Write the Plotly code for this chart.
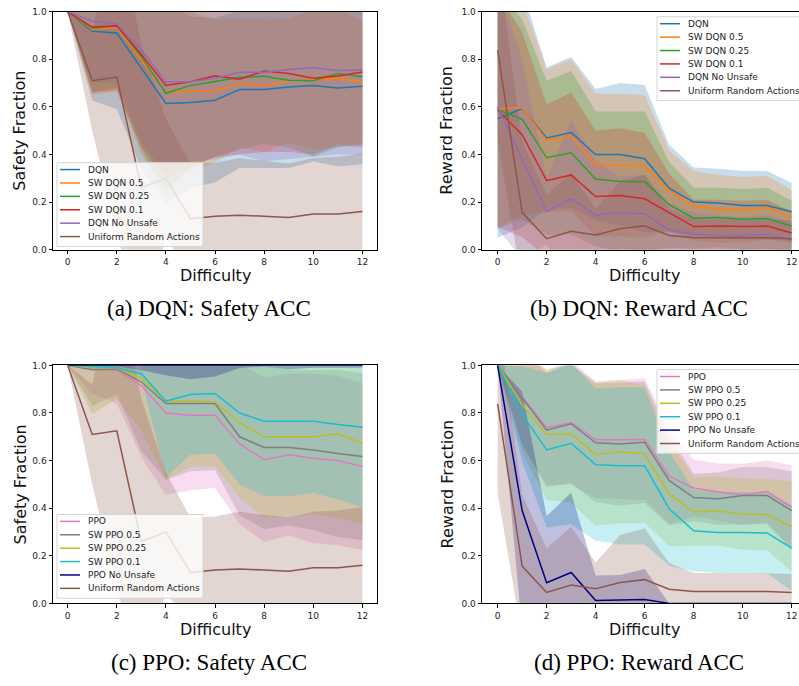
import plotly.graph_objects as go

# ---------------- data ----------------
DIFFICULTY = list(range(13))
X_TICKS = [0, 2, 4, 6, 8, 10, 12]
Y_TICKS = [0.0, 0.2, 0.4, 0.6, 0.8, 1.0]

# (a) DQN safety
A_DQN_MEAN = [1.0, 0.917, 0.91, 0.76, 0.614, 0.618, 0.628, 0.673, 0.673, 0.683, 0.69, 0.679, 0.686]
A_DQN_STD = [0.0, 0.29, 0.32, 0.42, 0.42, 0.36, 0.345, 0.33, 0.33, 0.34, 0.32, 0.33, 0.327]
A_SW05_MEAN = [1.0, 0.925, 0.935, 0.80, 0.66, 0.665, 0.667, 0.70, 0.688, 0.71, 0.715, 0.72, 0.705]
A_SW05_STD = [0.0, 0.275, 0.27, 0.40, 0.41, 0.335, 0.30, 0.27, 0.28, 0.26, 0.295, 0.29, 0.255]
A_SW025_MEAN = [1.0, 0.93, 0.94, 0.81, 0.657, 0.69, 0.706, 0.724, 0.728, 0.712, 0.71, 0.74, 0.726]
A_SW025_STD = [0.0, 0.27, 0.26, 0.39, 0.427, 0.34, 0.316, 0.304, 0.283, 0.282, 0.32, 0.31, 0.286]
A_SW01_MEAN = [1.0, 0.935, 0.94, 0.82, 0.69, 0.705, 0.73, 0.716, 0.75, 0.74, 0.72, 0.73, 0.746]
A_SW01_STD = [0.0, 0.275, 0.27, 0.39, 0.39, 0.365, 0.34, 0.316, 0.34, 0.33, 0.32, 0.29, 0.316]
A_NOUNSAFE_MEAN = [1.0, 0.96, 0.948, 0.84, 0.705, 0.705, 0.72, 0.745, 0.745, 0.757, 0.765, 0.753, 0.755]
A_NOUNSAFE_STD = [0.0, 0.26, 0.248, 0.39, 0.385, 0.335, 0.34, 0.345, 0.375, 0.377, 0.375, 0.353, 0.355]

# uniform random actions (shared by safety panels)
SAFETY_RANDOM_MEAN = [1.0, 0.71, 0.725, 0.26, 0.30, 0.13, 0.14, 0.145, 0.14, 0.135, 0.15, 0.15, 0.16]
SAFETY_RANDOM_STD = [0.0, 0.21, 0.65, 0.60, 0.25, 0.23, 0.225, 0.24, 0.232, 0.227, 0.235, 0.24, 0.245]

# (b) DQN reward
B_DQN_MEAN = [0.55, 0.593, 0.469, 0.492, 0.40, 0.40, 0.382, 0.258, 0.20, 0.196, 0.186, 0.186, 0.159]
B_DQN_STD = [0.5, 0.5, 0.296, 0.318, 0.275, 0.30, 0.31, 0.182, 0.145, 0.144, 0.144, 0.144, 0.121]
B_SW05_MEAN = [0.592, 0.596, 0.459, 0.48, 0.355, 0.355, 0.35, 0.248, 0.183, 0.172, 0.167, 0.177, 0.138]
B_SW05_STD = [0.5, 0.45, 0.30, 0.32, 0.30, 0.30, 0.30, 0.17, 0.147, 0.143, 0.138, 0.133, 0.112]
B_SW025_MEAN = [0.589, 0.548, 0.386, 0.407, 0.297, 0.286, 0.286, 0.189, 0.132, 0.135, 0.128, 0.131, 0.099]
B_SW025_STD = [0.5, 0.42, 0.324, 0.343, 0.283, 0.294, 0.294, 0.18, 0.128, 0.125, 0.127, 0.129, 0.106]
B_SW01_MEAN = [0.586, 0.483, 0.29, 0.314, 0.223, 0.228, 0.214, 0.156, 0.097, 0.099, 0.097, 0.099, 0.07]
B_SW01_STD = [0.49, 0.43, 0.32, 0.346, 0.277, 0.282, 0.276, 0.164, 0.113, 0.111, 0.108, 0.111, 0.09]
B_NOUNSAFE_MEAN = [0.60, 0.38, 0.161, 0.214, 0.145, 0.156, 0.15, 0.084, 0.066, 0.058, 0.058, 0.065, 0.041]
B_NOUNSAFE_STD = [0.51, 0.42, 0.14, 0.33, 0.23, 0.15, 0.165, 0.11, 0.09, 0.085, 0.08, 0.08, 0.07]

# uniform random actions (shared by reward panels)
REWARD_RANDOM_MEAN = [0.838, 0.157, 0.046, 0.077, 0.062, 0.088, 0.10, 0.06, 0.05, 0.05, 0.05, 0.05, 0.046]
REWARD_RANDOM_STD = [0.375, 0.30, 0.185, 0.245, 0.11, 0.20, 0.215, 0.11, 0.078, 0.078, 0.077, 0.077, 0.078]

# (c) PPO safety
C_PPO_MEAN = [1.0, 0.985, 0.98, 0.915, 0.80, 0.79, 0.79, 0.67, 0.604, 0.625, 0.61, 0.60, 0.575]
C_PPO_STD = [0.0, 0.105, 0.14, 0.30, 0.345, 0.315, 0.305, 0.336, 0.346, 0.34, 0.356, 0.356, 0.35]
C_SW05_MEAN = [1.0, 0.982, 0.985, 0.93, 0.84, 0.84, 0.84, 0.70, 0.655, 0.655, 0.645, 0.63, 0.617]
C_SW05_STD = [0.0, 0.152, 0.105, 0.29, 0.32, 0.285, 0.28, 0.33, 0.342, 0.328, 0.336, 0.351, 0.35]
C_SW025_MEAN = [1.0, 0.99, 0.99, 0.945, 0.85, 0.85, 0.845, 0.76, 0.70, 0.70, 0.70, 0.713, 0.673]
C_SW025_STD = [0.0, 0.195, 0.13, 0.22, 0.33, 0.275, 0.27, 0.316, 0.34, 0.336, 0.325, 0.353, 0.34]
C_SW01_MEAN = [1.0, 0.995, 0.99, 0.965, 0.85, 0.878, 0.882, 0.80, 0.765, 0.765, 0.765, 0.752, 0.74]
C_SW01_STD = [0.0, 0.01, 0.012, 0.02, 0.32, 0.253, 0.252, 0.30, 0.315, 0.315, 0.30, 0.315, 0.335]
C_NOUNSAFE_MEAN = [1.0, 1.0, 1.0, 0.999, 0.998, 0.997, 0.998, 0.999, 1.0, 0.999, 1.0, 1.0, 1.0]
C_NOUNSAFE_STD = [0.0, 0.005, 0.005, 0.02, 0.04, 0.055, 0.045, 0.01, 0.005, 0.015, 0.01, 0.01, 0.01]

# (d) PPO reward
D_PPO_MEAN = [1.0, 0.868, 0.738, 0.76, 0.688, 0.688, 0.69, 0.535, 0.485, 0.468, 0.457, 0.47, 0.405]
D_PPO_STD = [0.0, 0.2, 0.24, 0.26, 0.245, 0.25, 0.255, 0.2, 0.12, 0.12, 0.13, 0.13, 0.175]
D_SW05_MEAN = [1.0, 0.865, 0.728, 0.755, 0.675, 0.67, 0.677, 0.517, 0.445, 0.44, 0.453, 0.453, 0.39]
D_SW05_STD = [0.0, 0.2, 0.24, 0.25, 0.25, 0.26, 0.255, 0.19, 0.10, 0.11, 0.12, 0.12, 0.165]
D_SW025_MEAN = [1.0, 0.835, 0.71, 0.713, 0.626, 0.637, 0.628, 0.46, 0.385, 0.388, 0.376, 0.373, 0.323]
D_SW025_STD = [0.0, 0.2, 0.275, 0.29, 0.30, 0.30, 0.29, 0.22, 0.145, 0.145, 0.15, 0.15, 0.19]
D_SW01_MEAN = [1.0, 0.795, 0.645, 0.673, 0.583, 0.578, 0.578, 0.398, 0.305, 0.298, 0.298, 0.296, 0.232]
D_SW01_STD = [0.0, 0.2, 0.325, 0.34, 0.32, 0.33, 0.33, 0.24, 0.17, 0.17, 0.17, 0.17, 0.18]
D_NOUNSAFE_MEAN = [1.0, 0.39, 0.087, 0.13, 0.012, 0.013, 0.017, 0.0, 0.0, 0.0, 0.0, 0.0, 0.0]
D_NOUNSAFE_STD = [0.0, 0.5, 0.28, 0.335, 0.105, 0.107, 0.128, 0.0, 0.0, 0.0, 0.0, 0.0, 0.0]

DQN_NAMES = ["DQN", "SW DQN 0.5", "SW DQN 0.25", "SW DQN 0.1", "DQN No Unsafe", "Uniform Random Actions"]
PPO_NAMES = ["PPO", "SW PPO 0.5", "SW PPO 0.25", "SW PPO 0.1", "PPO No Unsafe", "Uniform Random Actions"]
DQN_COLORS = ["#1f77b4", "#ff7f0e", "#2ca02c", "#d62728", "#9467bd", "#8c564b"]
PPO_COLORS = ["#e377c2", "#7f7f7f", "#bcbd22", "#17becf", "#000080", "#8c564b"]

PANELS = [
    dict(ax="", names=DQN_NAMES, colors=DQN_COLORS,
         series=[(A_DQN_MEAN, A_DQN_STD), (A_SW05_MEAN, A_SW05_STD), (A_SW025_MEAN, A_SW025_STD),
                 (A_SW01_MEAN, A_SW01_STD), (A_NOUNSAFE_MEAN, A_NOUNSAFE_STD),
                 (SAFETY_RANDOM_MEAN, SAFETY_RANDOM_STD)],
         ylabel="Safety Fraction", caption="(a) DQN: Safety ACC"),
    dict(ax="2", names=DQN_NAMES, colors=DQN_COLORS,
         series=[(B_DQN_MEAN, B_DQN_STD), (B_SW05_MEAN, B_SW05_STD), (B_SW025_MEAN, B_SW025_STD),
                 (B_SW01_MEAN, B_SW01_STD), (B_NOUNSAFE_MEAN, B_NOUNSAFE_STD),
                 (REWARD_RANDOM_MEAN, REWARD_RANDOM_STD)],
         ylabel="Reward Fraction", caption="(b) DQN: Reward ACC"),
    dict(ax="3", names=PPO_NAMES, colors=PPO_COLORS,
         series=[(C_PPO_MEAN, C_PPO_STD), (C_SW05_MEAN, C_SW05_STD), (C_SW025_MEAN, C_SW025_STD),
                 (C_SW01_MEAN, C_SW01_STD), (C_NOUNSAFE_MEAN, C_NOUNSAFE_STD),
                 (SAFETY_RANDOM_MEAN, SAFETY_RANDOM_STD)],
         ylabel="Safety Fraction", caption="(c) PPO: Safety ACC"),
    dict(ax="4", names=PPO_NAMES, colors=PPO_COLORS,
         series=[(D_PPO_MEAN, D_PPO_STD), (D_SW05_MEAN, D_SW05_STD), (D_SW025_MEAN, D_SW025_STD),
                 (D_SW01_MEAN, D_SW01_STD), (D_NOUNSAFE_MEAN, D_NOUNSAFE_STD),
                 (REWARD_RANDOM_MEAN, REWARD_RANDOM_STD)],
         ylabel="Reward Fraction", caption="(d) PPO: Reward ACC"),
]

# ---------------- layout geometry (pixels) ----------------
W, H = 799, 686
BAND_ALPHA = 0.25


def px(p):
    return p / W


def py(p):
    return 1 - p / H


def rgba(hex_color, a):
    h = hex_color.lstrip("#")
    r, g, b = int(h[0:2], 16), int(h[2:4], 16), int(h[4:6], 16)
    return f"rgba({r},{g},{b},{a})"


# panel boxes: (left, right, top, bottom) in px, x range
GEOM = [
    dict(l=52.9, r=377.2, t=6.7, b=248.3, xr=[-0.6, 12.6], cx=215, ylx=20, legend=(57, 160)),
    dict(l=481.95, r=799, t=6.7, b=248.3, xr=[-0.64, 12.3], cx=644, ylx=447, legend=(657, 12)),
    dict(l=52.9, r=377.2, t=365.7, b=607.3, xr=[-0.6, 12.6], cx=215, ylx=20, legend=(57, 517)),
    dict(l=481.95, r=799, t=365.7, b=607.3, xr=[-0.64, 12.3], cx=644, ylx=447, legend=(657, 370)),
]
CAPTION_X = [209, 639, 209, 639]

fig = go.Figure()

for panel in PANELS:
    xa, ya = "x" + panel["ax"], "y" + panel["ax"]
    # bands first
    for (mean, std), color in zip(panel["series"], panel["colors"]):
        upper = [m + s for m, s in zip(mean, std)]
        lower = [m - s for m, s in zip(mean, std)]
        fig.add_trace(go.Scatter(
            x=DIFFICULTY + DIFFICULTY[::-1], y=upper + lower[::-1],
            xaxis=xa, yaxis=ya, mode="lines", fill="toself",
            fillcolor=rgba(color, BAND_ALPHA), line=dict(width=0),
            hoverinfo="skip", showlegend=False))
    for (mean, std), color, name in zip(panel["series"], panel["colors"], panel["names"]):
        fig.add_trace(go.Scatter(
            x=DIFFICULTY, y=mean, xaxis=xa, yaxis=ya, mode="lines", name=name,
            line=dict(color=color, width=1.5), showlegend=False))

axis_common = dict(showline=True, linecolor="black", linewidth=0.8, ticks="outside",
                   ticklen=3.5, tickwidth=0.8, tickcolor="black", showgrid=False,
                   zeroline=False, tickfont=dict(family="DejaVu Sans", size=9, color="#222"))

layout = dict(width=W, height=H, margin=dict(l=0, r=0, t=0, b=0),
              paper_bgcolor="white", plot_bgcolor="white", showlegend=False)

shapes = []
annotations = []
for i, (panel, g) in enumerate(zip(PANELS, GEOM)):
    sfx = panel["ax"]
    right_cut = g["r"] >= W
    layout["xaxis" + sfx] = dict(axis_common, domain=[px(g["l"]), px(g["r"])], range=g["xr"],
                                 tickvals=X_TICKS, anchor="y" + sfx, mirror=True)
    layout["yaxis" + sfx] = dict(axis_common, domain=[py(g["b"]), py(g["t"])], range=[0, 1],
                                 tickvals=Y_TICKS, tickformat=".1f", anchor="x" + sfx,
                                 mirror=not right_cut)
    # axis titles
    annotations.append(dict(text="Difficulty", x=px(g["cx"]), y=py(g["b"] + 26), xref="paper",
                            yref="paper", showarrow=False, xanchor="center", yanchor="middle",
                            font=dict(family="DejaVu Sans", size=16, color="#111")))
    annotations.append(dict(text=panel["ylabel"], x=px(g["ylx"]), y=py((g["t"] + g["b"]) / 2),
                            xref="paper", yref="paper", showarrow=False, textangle=-90,
                            xanchor="center", yanchor="middle",
                            font=dict(family="DejaVu Sans", size=16, color="#111")))
    annotations.append(dict(text=panel["caption"], x=px(CAPTION_X[i]), y=py(g["b"] + 59.7),
                            xref="paper", yref="paper", showarrow=False, xanchor="center",
                            yanchor="middle",
                            font=dict(family="Liberation Serif", size=23, color="black")))
    # legend box
    lx, ly = g["legend"]
    shapes.append(dict(type="rect", xref="paper", yref="paper", x0=px(lx), x1=px(lx + 146),
                       y0=py(ly + 85), y1=py(ly), fillcolor="rgba(255,255,255,0.8)",
                       line=dict(color="#d5d5d5", width=1), layer="above"))
    for k, (name, color) in enumerate(zip(panel["names"], panel["colors"])):
        yc = ly + 7 + 13.6 * k
        shapes.append(dict(type="line", xref="paper", yref="paper", x0=px(lx + 3), x1=px(lx + 23),
                           y0=py(yc), y1=py(yc), line=dict(color=color, width=1.5), layer="above"))
        annotations.append(dict(text=name, x=px(lx + 29), y=py(yc), xref="paper", yref="paper",
                                showarrow=False, xanchor="left", yanchor="middle",
                                font=dict(family="DejaVu Sans", size=9, color="#222")))

layout["shapes"] = shapes
layout["annotations"] = annotations
fig.update_layout(**layout)

fig.write_html("out.html", config={"displayModeBar": False},
               post_script="document.body.style.margin='0';")
